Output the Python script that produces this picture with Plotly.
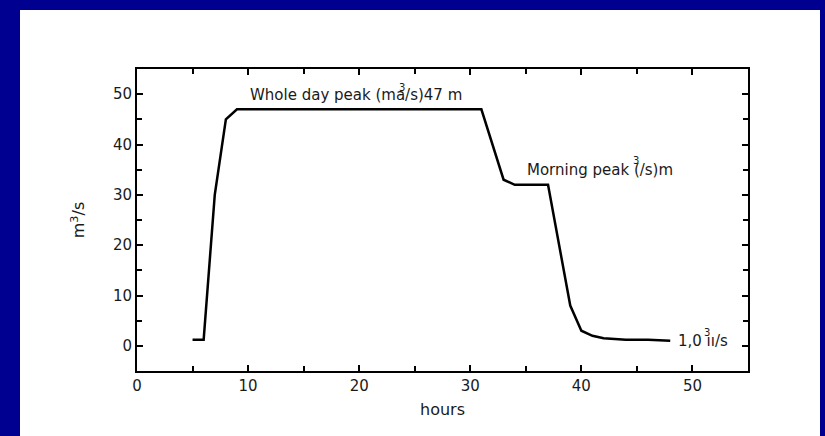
import plotly.graph_objects as go

hours = [5, 6, 7, 8, 9, 31, 33, 34, 37, 39, 40, 41, 42, 44, 46, 48]
flow = [1.2, 1.2, 30, 45, 47, 47, 33, 32, 32, 8, 3, 2, 1.5, 1.2, 1.2, 1.0]

x_ticks = [0, 10, 20, 30, 40, 50]
y_ticks = [0, 10, 20, 30, 40, 50]

FONT = "DejaVu Sans"
TXT = "#1a1a1a"

fig = go.Figure()
fig.add_trace(go.Scatter(x=hours, y=flow, mode="lines",
                         line=dict(color="black", width=2.5), hoverinfo="skip"))

L, R, T, B = 137, 748, 69, 371
W, H = 825, 436
pw, ph = R - L, B - T


def px(x):
    return (x - L) / pw


def py(y):
    return (B - y) / ph


def ax_x(pxx):
    return (pxx - L) / pw * 55


def ax_y(pyy):
    return -5 + (B - pyy) / ph * 60


# white panel over blue frame
fig.add_shape(type="rect", xref="paper", yref="paper", layer="below",
              x0=px(20), x1=px(820), y0=py(445), y1=py(10),
              fillcolor="white", line=dict(width=0))

ann_font = dict(family=FONT, size=15, color=TXT)
sup_font = dict(family=FONT, size=10, color=TXT)

fig.add_annotation(x=ax_x(248), y=ax_y(95), xref="x", yref="y", xanchor="left",
                   text="Whole day peak (ma/s)47 m", showarrow=False, font=ann_font)
fig.add_annotation(x=ax_x(402), y=ax_y(87), xref="x", yref="y", xanchor="center",
                   text="3", showarrow=False, font=sup_font)
fig.add_annotation(x=ax_x(525), y=ax_y(170), xref="x", yref="y", xanchor="left",
                   text="Morning peak (/s)m", showarrow=False, font=ann_font)
fig.add_annotation(x=ax_x(636), y=ax_y(160), xref="x", yref="y", xanchor="center",
                   text="3", showarrow=False, font=sup_font)
fig.add_annotation(x=ax_x(676), y=ax_y(341), xref="x", yref="y", xanchor="left",
                   text="1,0 ıı/s", showarrow=False, font=ann_font)
fig.add_annotation(x=ax_x(707), y=ax_y(332), xref="x", yref="y", xanchor="center",
                   text="3", showarrow=False, font=sup_font)

axis_common = dict(showline=True, linecolor="black", linewidth=2, mirror="ticks",
                   ticks="inside", ticklen=6, tickwidth=2, tickcolor="black",
                   showgrid=False, zeroline=False,
                   tickfont=dict(family=FONT, size=15, color=TXT),
                   minor=dict(ticks="inside", ticklen=5, tickwidth=2, tickcolor="black", dtick=5))

fig.update_xaxes(range=[0, 55], tickvals=x_ticks, ticktext=[str(v) for v in x_ticks],
                 title=dict(text="hours", font=dict(family=FONT, size=16, color=TXT), standoff=10),
                 **axis_common)
fig.update_yaxes(range=[-5, 55], tickvals=y_ticks, ticktext=[str(v) for v in y_ticks],
                 title=dict(text="m<sup>3</sup>/s", font=dict(family=FONT, size=16, color=TXT), standoff=24),
                 **axis_common)

fig.update_layout(width=W, height=H, margin=dict(l=L, r=W - R, t=T, b=H - B),
                  paper_bgcolor="#000090", plot_bgcolor="white", showlegend=False)

fig.write_html("out.html", config={"displayModeBar": False},
               post_script="document.body.style.margin='0';document.body.style.overflow='hidden';")
